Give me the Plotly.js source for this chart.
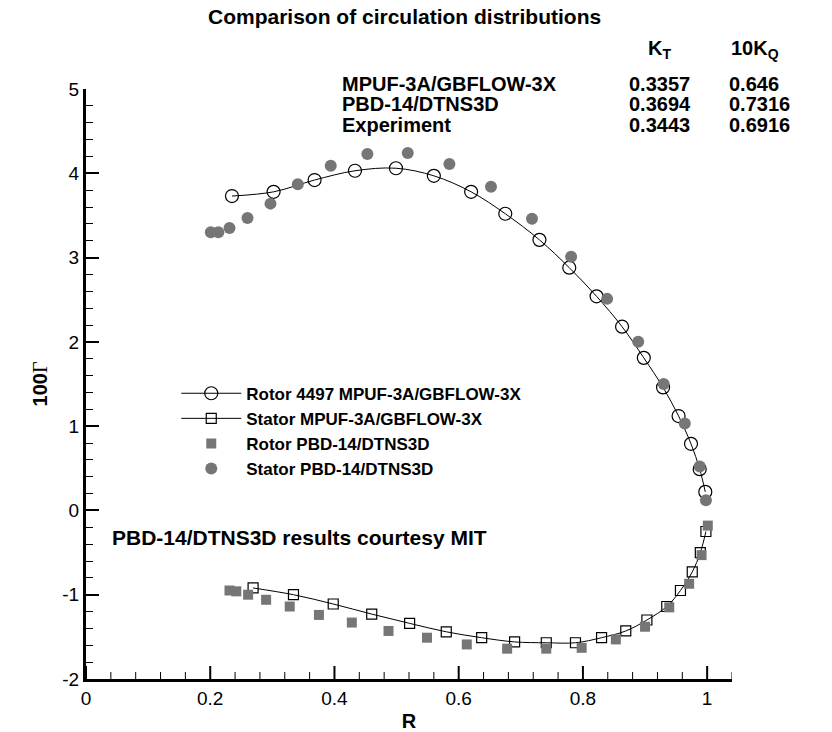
<!DOCTYPE html>
<html>
<head>
<meta charset="utf-8">
<script src="https://cdn.plot.ly/plotly-3.0.1.min.js"></script>
<style>html,body{margin:0;padding:0;background:#fff}#chart{width:832px;height:732px}</style>
</head>
<body>
<div id="chart"></div>
<script>
// Rotor 4497 MPUF-3A/GBFLOW-3X (open circles + line)
const rotorMpufR = [0.235, 0.302, 0.368, 0.433, 0.499, 0.560, 0.620, 0.675, 0.730, 0.778, 0.822, 0.863, 0.898, 0.929, 0.954, 0.974, 0.988, 0.997];
const rotorMpufG = [3.73, 3.78, 3.92, 4.03, 4.06, 3.97, 3.78, 3.52, 3.21, 2.88, 2.54, 2.18, 1.81, 1.46, 1.12, 0.79, 0.49, 0.22];
// Stator MPUF-3A/GBFLOW-3X (open squares + line)
const statorMpufR = [0.269, 0.334, 0.398, 0.460, 0.521, 0.580, 0.637, 0.690, 0.741, 0.788, 0.830, 0.869, 0.903, 0.935, 0.957, 0.976, 0.989, 0.998];
const statorMpufG = [-0.92, -1.00, -1.11, -1.23, -1.34, -1.44, -1.51, -1.56, -1.57, -1.57, -1.51, -1.43, -1.30, -1.14, -0.95, -0.73, -0.50, -0.25];
// Rotor PBD-14/DTNS3D (filled squares)
const rotorPbdR = [0.231, 0.242, 0.261, 0.290, 0.328, 0.375, 0.428, 0.487, 0.549, 0.613, 0.678, 0.741, 0.798, 0.853, 0.900, 0.939, 0.971, 0.991, 1.001];
const rotorPbdG = [-0.95, -0.96, -1.00, -1.06, -1.14, -1.24, -1.33, -1.43, -1.51, -1.59, -1.64, -1.64, -1.63, -1.53, -1.38, -1.15, -0.87, -0.53, -0.18];
// Stator PBD-14/DTNS3D (filled circles)
const statorPbdR = [0.201, 0.213, 0.231, 0.260, 0.297, 0.341, 0.394, 0.453, 0.518, 0.585, 0.652, 0.718, 0.781, 0.839, 0.889, 0.930, 0.964, 0.988, 0.998];
const statorPbdG = [3.30, 3.30, 3.35, 3.47, 3.64, 3.87, 4.09, 4.23, 4.24, 4.11, 3.84, 3.46, 3.01, 2.51, 2.00, 1.50, 1.03, 0.52, 0.12];

const seriesNames = ['Rotor 4497 MPUF-3A/GBFLOW-3X', 'Stator MPUF-3A/GBFLOW-3X', 'Rotor PBD-14/DTNS3D', 'Stator PBD-14/DTNS3D'];

// Integrated values table
const tableRows = ['MPUF-3A/GBFLOW-3X', 'PBD-14/DTNS3D', 'Experiment'];
const ktValues = ['0.3357', '0.3694', '0.3443'];
const kqValues = ['0.646', '0.7316', '0.6916'];

const xTicks = [0, 0.2, 0.4, 0.6, 0.8, 1];
const xTickText = ['0', '0.2', '0.4', '0.6', '0.8', '1'];
const xMinorTicks = [0.04, 0.08, 0.12, 0.16, 0.24, 0.28, 0.32, 0.36, 0.44, 0.48, 0.52, 0.56,
                     0.64, 0.68, 0.72, 0.76, 0.84, 0.88, 0.92, 0.96, 1.04];
const yTicks = [-2, -1, 0, 1, 2, 3, 4, 5];
const yTickText = ['-2', '-1', '0', '1', '2', '3', '4', '5'];

const FONT = 'Liberation Sans, Arial, Helvetica, sans-serif';
const GRAY = 'rgb(118,118,118)';

const traces = [
  {x: rotorMpufR, y: rotorMpufG, name: seriesNames[0], mode: 'lines+markers', legendgroup: 'a',
   line: {color: 'black', width: 1, shape: 'spline'},
   marker: {symbol: 'circle-open', size: 13, color: 'black', line: {width: 1.2, color: 'black'}}},
  {x: statorMpufR, y: statorMpufG, name: seriesNames[1], mode: 'lines+markers', legendgroup: 'b',
   line: {color: 'black', width: 1, shape: 'spline'},
   marker: {symbol: 'square-open', size: 10, color: 'black', line: {width: 1.2, color: 'black'}}},
  {x: rotorPbdR, y: rotorPbdG, name: seriesNames[2], mode: 'markers', legendgroup: 'c',
   marker: {symbol: 'square', size: 10, color: GRAY}},
  {x: statorPbdR, y: statorPbdG, name: seriesNames[3], mode: 'markers', legendgroup: 'd',
   marker: {symbol: 'circle', size: 12, color: GRAY}}
];

const L = 85.7, R = 732, T = 89.3, B = 679.3;
const px = v => (v - L) / (R - L);
const py = v => (B - v) / (B - T);

const annotations = [
  {text: '<b>Comparison of circulation distributions</b>', x: px(404), y: py(17), xanchor: 'center', yanchor: 'middle', font: {size: 21}},
  {text: '<b>K<sub>T</sub></b>', x: px(646), y: py(50), xanchor: 'left', yanchor: 'middle', font: {size: 20}},
  {text: '<b>10K<sub>Q</sub></b>', x: px(729), y: py(50), xanchor: 'left', yanchor: 'middle', font: {size: 20}},
  {text: '<b>PBD-14/DTNS3D results courtesy MIT</b>', x: px(110), y: py(538), xanchor: 'left', yanchor: 'middle', font: {size: 21}}
];
const rowY = [84, 104.5, 125];
tableRows.forEach((t, i) => {
  annotations.push({text: '<b>' + t + '</b>', x: px(340), y: py(rowY[i]), xanchor: 'left', yanchor: 'middle', font: {size: 20}});
  annotations.push({text: '<b>' + ktValues[i] + '</b>', x: px(627), y: py(rowY[i]), xanchor: 'left', yanchor: 'middle', font: {size: 20}});
  annotations.push({text: '<b>' + kqValues[i] + '</b>', x: px(727), y: py(rowY[i]), xanchor: 'left', yanchor: 'middle', font: {size: 20}});
});
annotations.forEach(a => { a.xref = 'paper'; a.yref = 'paper'; a.showarrow = false; a.font.family = FONT; a.font.color = 'black'; });

// Upward tick marks on the R axis, placed at the tick values through the x scale,
// with a fixed length in pixels above the bottom axis line (y = -2).
const tickShape = (v, len, w) => ({
  type: 'line', xref: 'x', yref: 'y', layer: 'above',
  x0: v, x1: v, ysizemode: 'pixel', yanchor: -2, y0: 0, y1: len,
  line: {color: 'black', width: w}
});
const shapes = xTicks.map(v => tickShape(v, 13, 2)).concat(xMinorTicks.map(v => tickShape(v, 7, 1)));

const layout = {
  width: 832, height: 732,
  margin: {l: L, r: 832 - R, t: T, b: 732 - B, pad: 0},
  paper_bgcolor: 'white', plot_bgcolor: 'white',
  font: {family: FONT, color: 'black', size: 19},
  showlegend: true,
  legend: {x: px(176), y: py(376), xanchor: 'left', yanchor: 'top', bgcolor: 'rgba(0,0,0,0)',
           font: {family: FONT, size: 17, color: 'black', weight: 'bold'}, itemwidth: 60, tracegroupgap: 0},
  xaxis: {range: [0, 1.04], tickmode: 'array', tickvals: xTicks, ticktext: xTickText,
          ticks: '', showticklabels: true,
          showline: true, linecolor: 'black', linewidth: 3, showgrid: false, zeroline: false,
          tickfont: {family: FONT, size: 19},
          title: {text: '<b>R</b>', font: {family: FONT, size: 20}, standoff: 8}},
  yaxis: {range: [-2, 5], tickmode: 'array', tickvals: yTicks, ticktext: yTickText,
          ticks: 'inside', ticklen: 13, tickwidth: 2, tickcolor: 'black', showticklabels: true,
          showline: true, linecolor: 'black', linewidth: 3, showgrid: false, zeroline: false,
          tickfont: {family: FONT, size: 19},
          minor: {tick0: 0, dtick: 0.2, ticks: 'inside', ticklen: 7, tickwidth: 1, tickcolor: 'black', showgrid: false},
          title: {text: '<b>100</b><span style="font-family:Liberation Serif">Γ</span>', font: {family: FONT, size: 20}, standoff: 10}},
  shapes: shapes,
  annotations: annotations
};

Plotly.newPlot('chart', traces, layout, {displayModeBar: false, staticPlot: true});
</script>
</body>
</html>
